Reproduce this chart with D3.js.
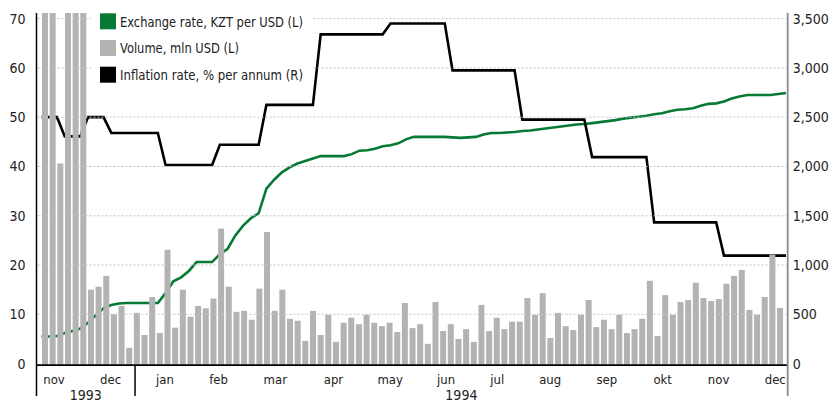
<!DOCTYPE html>
<html>
<head>
<meta charset="utf-8">
<script src="https://cdn.jsdelivr.net/npm/d3@7"></script>
<style>
body { margin: 0; background: #fff; }
.tick text, .yr { font-family: "DejaVu Sans Condensed", "DejaVu Sans", sans-serif; font-stretch: condensed; font-size: 14px; fill: #222; }
.mon text { font-size: 13px; }
.legend text { font-family: "DejaVu Sans Condensed", "DejaVu Sans", sans-serif; font-stretch: condensed; font-size: 14px; fill: #222; }
</style>
</head>
<body>
<div id="chart"></div>
<script>

// one value per trading session, nov 1993 - dec 1994
var volume = [90, 90, 40.6, 90, 90, 90, 15.0, 15.6, 17.8, 10.0,
  11.7, 3.2, 10.3, 5.8, 13.5, 6.2, 23.1, 7.3, 15.0, 9.5,
  11.7, 11.2, 13.2, 27.4, 15.6, 10.5, 10.7, 8.9, 15.2, 26.7,
  10.7, 15.0, 9.1, 8.7, 4.6, 10.7, 5.8, 9.9, 4.4, 8.3,
  9.3, 8.0, 9.9, 8.3, 7.6, 8.3, 6.4, 12.3, 7.2, 8.0,
  4.0, 12.5, 6.6, 8.0, 5.0, 7.0, 4.4, 11.9, 6.6, 9.3,
  7.0, 8.5, 8.5, 13.3, 9.9, 14.3, 5.2, 10.3, 7.6, 6.8,
  9.9, 12.9, 7.4, 8.9, 7.0, 9.9, 6.2, 7.0, 9.1, 16.8,
  5.6, 13.9, 9.9, 12.5, 12.9, 16.4, 13.3, 12.7, 13.1, 16.2,
  17.8, 19.0, 10.9, 9.9, 13.5, 22.1, 11.3];

var rate = [5.5, 5.5, 5.6, 6.2, 6.6, 7.1, 8.3, 9.8, 11.2, 11.9,
  12.2, 12.3, 12.3, 12.3, 12.3, 12.3, 14.3, 16.7, 17.5, 18.8,
  20.6, 20.6, 20.6, 22.2, 23.3, 26.0, 28.0, 29.5, 30.5, 35.5,
  37.3, 38.8, 39.8, 40.6, 41.1, 41.6, 42.1, 42.1, 42.1, 42.1,
  42.5, 43.2, 43.3, 43.6, 44.1, 44.3, 44.7, 45.5, 46.0, 46.0,
  46.0, 46.0, 46.0, 45.9, 45.8, 45.9, 46.0, 46.5, 46.8, 46.8,
  46.9, 47.0, 47.2, 47.3, 47.5, 47.7, 47.9, 48.1, 48.3, 48.5,
  48.6, 48.8, 49.0, 49.2, 49.4, 49.7, 49.9, 50.1, 50.3, 50.6,
  50.8, 51.2, 51.5, 51.6, 51.8, 52.3, 52.7, 52.8, 53.2, 53.8,
  54.2, 54.5, 54.5, 54.5, 54.5, 54.7, 54.9];

var inflation = [2500, 2500, 2500, 2305, 2305, 2305, 2500, 2500, 2500,
  2340, 2340, 2340, 2340, 2340, 2340, 2340,
  2015, 2015, 2015, 2015, 2015, 2015, 2015,
  2220, 2220, 2220, 2220, 2220, 2220,
  2625, 2625, 2625, 2625, 2625, 2625, 2625,
  3340, 3340, 3340, 3340, 3340, 3340, 3340, 3340, 3340,
  3450, 3450, 3450, 3450, 3450, 3450, 3450, 3450,
  2975, 2975, 2975, 2975, 2975, 2975, 2975, 2975, 2975,
  2475, 2475, 2475, 2475, 2475, 2475, 2475, 2475, 2475,
  2095, 2095, 2095, 2095, 2095, 2095, 2095, 2095,
  1433, 1433, 1433, 1433, 1433, 1433, 1433, 1433, 1433,
  1095, 1095, 1095, 1095, 1095, 1095, 1095, 1095, 1095];

var leftTicks = [0, 10, 20, 30, 40, 50, 60, 70];
var rightTicks = [0, 500, 1000, 1500, 2000, 2500, 3000, 3500];
var monthLabels = ["nov", "dec", "jan", "feb", "mar", "apr", "may", "jun", "jul", "aug", "sep", "okt", "nov", "dec"];
var monthPos = [1.5, 8.9, 16, 23, 30.4, 38, 45.4, 52.7, 59.4, 66.3, 73.7, 81, 88.3, 95.7];
var yearLabels = ["1993", "1994"];
var yearBounds = [-0.72, 12.15, 97.4];
var legendItems = [
  { label: "Exchange rate, KZT per USD (L)", color: "#067a34", w: 183 },
  { label: "Volume, mln USD (L)", color: "#b3b3b3", w: 119 },
  { label: "Inflation rate, % per annum (R)", color: "#000", w: 183 }
];

var width = 832, height = 403,
    mLeft = 36.5, mRight = 787.7, mTop = 13, mBottom = 396;

var svg = d3.select("#chart").append("svg")
  .attr("width", width).attr("height", height);

var xBar = d3.scaleLinear().domain([0, 97]).range([42, 784.7]);
var xLine = d3.scaleLinear().domain([0, volume.length - 1]).range([41.5, 786]);
var yL = d3.scaleLinear().domain([0, 70]).range([363.6, 18.6]);
var yR = d3.scaleLinear().domain([0, 3500]).range([363.6, 18.6]);

svg.append("clipPath").attr("id", "plot")
  .append("rect").attr("x", mLeft).attr("y", mTop).attr("width", mRight - mLeft).attr("height", 366 - mTop);

var plot = svg.append("g").attr("clip-path", "url(#plot)");

// lines sit behind the bars
plot.append("path")
  .datum(rate)
  .attr("fill", "none").attr("stroke", "#067a34").attr("stroke-width", 2.6)
  .attr("d", d3.line().x(function(d, i) { return xLine(i); }).y(function(d) { return yL(d); }));

plot.append("path")
  .datum(inflation)
  .attr("fill", "none").attr("stroke", "#000").attr("stroke-width", 2.6)
  .attr("d", d3.line().x(function(d, i) { return xLine(i); }).y(function(d) { return yR(d); }));

plot.selectAll(".bar")
  .data(volume)
  .enter().append("rect")
  .attr("class", "bar")
  .attr("x", function(d, i) { return xBar(i); })
  .attr("width", 6)
  .attr("y", function(d) { return yL(d); })
  .attr("height", function(d) { return yL(0) - yL(d) + 1.5; })
  .attr("fill", "#b3b3b3");

// grid
svg.append("g").selectAll("line")
  .data(leftTicks.slice(1))
  .enter().append("line")
  .attr("x1", mLeft + 1).attr("x2", mRight - 1)
  .attr("y1", function(d) { return yL(d); })
  .attr("y2", function(d) { return yL(d); })
  .attr("stroke", "#c4c4c4").attr("stroke-width", 1).attr("stroke-dasharray", "2,2");

// legend
var legend = svg.append("g").attr("class", "legend");
legend.append("rect").attr("x", 91).attr("y", 9).attr("width", 221).attr("height", 82).attr("fill", "#fff");
legendItems.forEach(function(d, i) {
  legend.append("rect").attr("x", 100).attr("y", 13.3 + i * 26.7).attr("width", 16).attr("height", 16).attr("fill", d.color);
  legend.append("text").attr("x", 120).attr("y", 26.5 + i * 26.7)
    .attr("textLength", d.w).attr("lengthAdjust", "spacingAndGlyphs")
    .text(d.label);
});

// axes
svg.append("g")
  .attr("transform", "translate(" + mLeft + ",0)")
  .call(d3.axisLeft(yL).tickValues(leftTicks).tickSize(0).tickPadding(11))
  .call(function(g) { g.select(".domain").remove(); });

svg.append("g")
  .attr("transform", "translate(" + mRight + ",0)")
  .call(d3.axisRight(yR).tickValues(rightTicks).tickSize(0).tickPadding(5).tickFormat(d3.format(",")))
  .call(function(g) { g.select(".domain").remove(); });

var mon = svg.append("g")
  .attr("class", "mon")
  .attr("transform", "translate(0,365)")
  .call(d3.axisBottom(xBar).tickValues(monthPos).tickSize(0).tickFormat(function(d, i) { return monthLabels[i]; }))
  .call(function(g) { g.select(".domain").remove(); });
mon.selectAll("text").attr("y", 19).attr("dy", null);

svg.selectAll(".yr")
  .data(yearLabels)
  .enter().append("text")
  .attr("class", "yr")
  .attr("text-anchor", "middle")
  .attr("x", function(d, i) { return (xBar(yearBounds[i]) + xBar(yearBounds[i + 1])) / 2; })
  .attr("y", 400)
  .text(function(d) { return d; });

// axis lines
svg.append("line").attr("x1", mLeft).attr("x2", mRight).attr("y1", 365.2).attr("y2", 365.2)
  .attr("stroke", "#000").attr("stroke-width", 1.8);
svg.append("line").attr("x1", mLeft).attr("x2", mLeft).attr("y1", mTop).attr("y2", mBottom)
  .attr("stroke", "#000").attr("stroke-width", 1.5);
svg.append("line").attr("x1", xBar(yearBounds[1])).attr("x2", xBar(yearBounds[1])).attr("y1", 366).attr("y2", mBottom)
  .attr("stroke", "#000").attr("stroke-width", 1.5);
svg.append("line").attr("x1", mRight).attr("x2", mRight).attr("y1", mTop).attr("y2", mBottom)
  .attr("stroke", "#8a8a8a").attr("stroke-width", 1.8);

</script>
</body>
</html>
